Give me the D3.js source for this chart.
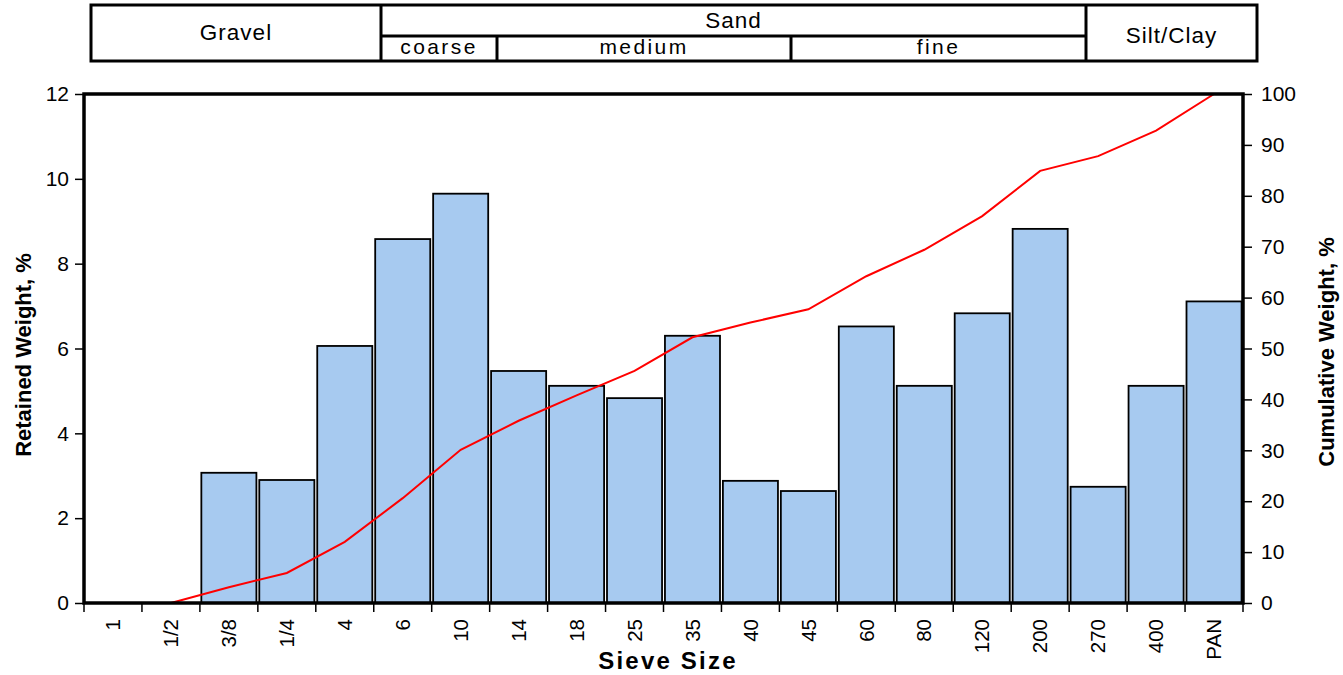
<!DOCTYPE html>
<html><head><meta charset="utf-8">
<script src="https://cdn.jsdelivr.net/npm/d3@7/dist/d3.min.js"></script>
<style>body{margin:0;background:#fff}svg{display:block}text{font-family:"Liberation Sans",Arial,sans-serif;fill:#000}</style>
</head><body><svg id="c" width="1343" height="675"></svg>
<script>
const sieves = ["1","1/2","3/8","1/4","4","6","10","14","18","25","35","40","45","60","80","120","200","270","400","PAN"];
const retained = [0,0,3.07,2.90,6.06,8.58,9.65,5.47,5.12,4.83,6.30,2.88,2.64,6.52,5.12,6.83,8.82,2.74,5.12,7.11];
const cumulative = [0,0,3.1,5.9,12.0,20.6,30.1,35.8,40.8,45.6,52.2,55.1,57.7,64.2,69.4,76.0,84.9,87.8,92.8,100];
const leftTicks = [0,2,4,6,8,10,12];
const rightTicks = [0,10,20,30,40,50,60,70,80,90,100];
const mainGroups = ["Gravel","Sand","Silt/Clay"];
const sandSubs = ["coarse","medium","fine"];

const svg = d3.select("#c");
const L=84, R=1243, T=94, B=603;
const x = d3.scaleBand().domain(sieves).range([L,R]).paddingInner(0.05).paddingOuter(0.025);
const xb = d3.scaleBand().domain(sieves).range([L,R]);
const yL = d3.scaleLinear().domain([0,12]).range([B,T]);
const yR = d3.scaleLinear().domain([0,100]).range([B,T]);

// header table
const hy0=5, hy1=61, hMid=36;
const cuts = {g:381, s:1086, c:497, m:791};
const hg = svg.append("g");
hg.append("rect").attr("x",91).attr("y",hy0).attr("width",1257-91).attr("height",hy1-hy0).attr("fill","none").attr("stroke","#000").attr("stroke-width",3);
[[cuts.g,hy0,cuts.g,hy1],[cuts.s,hy0,cuts.s,hy1],[cuts.g,hMid,cuts.s,hMid],[cuts.c,hMid,cuts.c,hy1],[cuts.m,hMid,cuts.m,hy1]].forEach(d=>{
  hg.append("line").attr("x1",d[0]).attr("y1",d[1]).attr("x2",d[2]).attr("y2",d[3]).attr("stroke","#000").attr("stroke-width",3);
});
const mainPos = [[(91+cuts.g)/2,40],[(cuts.g+cuts.s)/2,28],[(cuts.s+1257)/2,43]];
mainGroups.forEach((t,i)=>hg.append("text").attr("x",mainPos[i][0]).attr("y",mainPos[i][1]).attr("text-anchor","middle").attr("font-size",22.5).attr("letter-spacing",1).text(t));
const subPos = [(cuts.g+cuts.c)/2,(cuts.c+cuts.m)/2,(cuts.m+cuts.s)/2];
sandSubs.forEach((t,i)=>hg.append("text").attr("x",subPos[i]).attr("y",54).attr("text-anchor","middle").attr("font-size",21).attr("letter-spacing",2.4).text(t));

// bars
svg.append("g").selectAll("rect").data(sieves).join("rect")
  .attr("x",d=>x(d)).attr("width",x.bandwidth())
  .attr("y",(d,i)=>yL(retained[i])).attr("height",(d,i)=>B-yL(retained[i]))
  .attr("fill","#a7caf0").attr("stroke","#000").attr("stroke-width",1.8);

// line
svg.append("path").datum(cumulative)
  .attr("d",d3.line().x((d,i)=>xb(sieves[i])+xb.bandwidth()/2).y(d=>yR(d)))
  .attr("fill","none").attr("stroke","#ff0000").attr("stroke-width",2);

// frame
svg.append("rect").attr("x",L).attr("y",T).attr("width",R-L).attr("height",B-T).attr("fill","none").attr("stroke","#000").attr("stroke-width",3.5);

// left axis
const la = svg.append("g").attr("transform",`translate(${L},0)`).call(d3.axisLeft(yL).tickValues(leftTicks).tickSize(9).tickPadding(6));
la.select(".domain").remove();
la.selectAll("text").attr("font-size",21).attr("font-family","Liberation Sans, Arial, sans-serif");
la.selectAll("line").attr("stroke-width",1.5);
// right axis
const ra = svg.append("g").attr("transform",`translate(${R},0)`).call(d3.axisRight(yR).tickValues(rightTicks).tickSize(9).tickPadding(9));
ra.select(".domain").remove();
ra.selectAll("text").attr("font-size",21).attr("font-family","Liberation Sans, Arial, sans-serif");
ra.selectAll("line").attr("stroke-width",1.5);
// x axis ticks at boundaries
const xt = svg.append("g");
const bounds = sieves.map(s=>xb(s)).concat([R]);
xt.selectAll("line").data(bounds).join("line").attr("x1",d=>d).attr("x2",d=>d).attr("y1",B).attr("y2",B+9).attr("stroke","#000").attr("stroke-width",1.5);
xt.selectAll("text").data(sieves).join("text")
  .attr("transform",d=>`translate(${xb(d)+xb.bandwidth()/2},${B+16}) rotate(-90)`)
  .attr("text-anchor","end").attr("dy","0.35em").attr("font-size",20.5).text(d=>d);

// titles
svg.append("text").attr("transform","translate(31,355) rotate(-90)").attr("text-anchor","middle").attr("font-size",22).attr("font-weight","bold").text("Retained Weight, %");
svg.append("text").attr("transform","translate(1334,352) rotate(-90)").attr("text-anchor","middle").attr("font-size",22).attr("font-weight","bold").text("Cumulative Weight, %");
svg.append("text").attr("x",668).attr("y",669).attr("text-anchor","middle").attr("font-size",24).attr("font-weight","bold").attr("letter-spacing",2.2).text("Sieve Size");
</script></body></html>
